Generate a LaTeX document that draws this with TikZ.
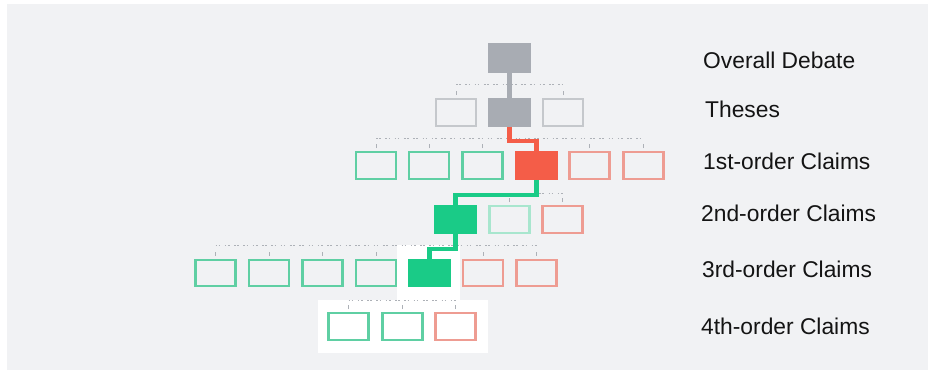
\documentclass[tikz,border=0pt]{standalone}
\usepackage{fontspec}
\setmainfont{Liberation Sans}
\definecolor{bgpanel}{HTML}{F1F2F4}
\definecolor{grayfill}{HTML}{A8ACB3}
\definecolor{grayline}{HTML}{C5C8CC}
\definecolor{redfill}{HTML}{F45D48}
\definecolor{redline}{HTML}{EE9C92}
\definecolor{greenfill}{HTML}{1ACB87}
\definecolor{greenline}{HTML}{5FCFA3}
\definecolor{lightgreen}{HTML}{A8E6CE}
\definecolor{dotgray}{HTML}{ADB1B7}
\definecolor{labeltext}{HTML}{141414}
\begin{document}
\begin{tikzpicture}[x=1pt,y=-1pt,
  box/.style={draw, line width=2.4pt, minimum width=40pt, minimum height=26.5pt, inner sep=0pt, fill=none},
  boxgray/.style={box, draw=grayline},
  boxgreen/.style={box, draw=greenline},
  boxlight/.style={box, draw=lightgreen},
  boxred/.style={box, draw=redline},
  fgray/.style={box, draw=grayfill, fill=grayfill},
  fred/.style={box, draw=redfill, fill=redfill},
  fgreen/.style={box, draw=greenfill, fill=greenfill},
  conn/.style={line width=4.5pt, line join=miter},
  dots/.style={draw=dotgray, line width=1pt, dash pattern=on 1.6pt off 1.6pt on 1.6pt off 4.5pt},
  tick/.style={draw=dotgray, line width=0.8pt},
  lbl/.style={anchor=base west, inner sep=0pt, text=labeltext, font=\fontsize{22.8}{27}\selectfont}
]
\useasboundingbox (0,0) rectangle (932,373);
\fill[white] (0,0) rectangle (932,373);
\fill[bgpanel] (7,4) rectangle (928,370);
% white patches
\fill[white] (397,245) rectangle (460,302);
\fill[white] (318,300) rectangle (488,353);

% level 0
\node[fgray, minimum width=41pt, minimum height=28pt] (d) at (509.5,58) {};
% level 1
\node[boxgray] (t1) at (456,112.5) {};
\node[fgray] (t2) at (509.5,112.5) {};
\node[boxgray] (t3) at (563,112.5) {};
% level 2
\node[boxgreen] (c1) at (376,165.5) {};
\node[boxgreen] (c2) at (429,165.5) {};
\node[boxgreen] (c3) at (482.5,165.5) {};
\node[fred] (c4) at (536.5,165.5) {};
\node[boxred] (c5) at (589.5,165.5) {};
\node[boxred] (c6) at (643.5,165.5) {};
% level 3
\node[fgreen] (s1) at (455.5,219.5) {};
\node[boxlight] (s2) at (509.5,219.5) {};
\node[boxred] (s3) at (562.5,219.5) {};
% level 4
\node[boxgreen] (e1) at (215.5,273) {};
\node[boxgreen] (e2) at (269,273) {};
\node[boxgreen] (e3) at (322.5,273) {};
\node[boxgreen] (e4) at (376,273) {};
\node[fgreen] (e5) at (429.5,273) {};
\node[boxred] (e6) at (483,273) {};
\node[boxred] (e7) at (536.5,273) {};
% level 5
\node[boxgreen] (f1) at (348.5,326.5) {};
\node[boxgreen] (f2) at (402.5,326.5) {};
\node[boxred] (f3) at (455.5,326.5) {};

% dotted sibling lines
\draw[dots] (t1.north |- 0,84) -- (t3.north |- 0,84);
\draw[dots] (c1.north |- 0,138) -- (c6.north |- 0,138);
\draw[dots] (s1.north |- 0,193) -- (s3.north |- 0,193);
\draw[dots] (e1.north |- 0,245) -- (e7.north |- 0,245);
\draw[dots] (f1.north |- 0,300) -- (f3.north |- 0,300);
\foreach \n in {t1,t3,c1,c2,c3,c5,c6,s2,s3,e1,e2,e3,e4,e6,e7,f1,f2,f3}
  \draw[tick] (\n.north) ++(0,-3) -- ++(0,-4);

% highlighted path
\draw[conn, draw=grayfill] (d.south) -- (t2.north);
\draw[conn, draw=redfill] (t2.south) -- ++(0,14) -| (c4.north);
\draw[conn, draw=greenfill] (c4.south) -- ++(0,15) -| (s1.north);
\draw[conn, draw=greenfill] (s1.south) -- ++(0,15) -| (e5.north);

% labels
\node[lbl] (l0) at (703,68) {Overall Debate};
\node[lbl] (l1) at (705,117) {Theses};
\node[lbl] (l2) at (703,169) {1st-order Claims};
\node[lbl] (l3) at (701,221) {2nd-order Claims};
\node[lbl] (l4) at (702,277) {3rd-order Claims};
\node[lbl] (l5) at (701,334) {4th-order Claims};
\end{tikzpicture}
\end{document}
